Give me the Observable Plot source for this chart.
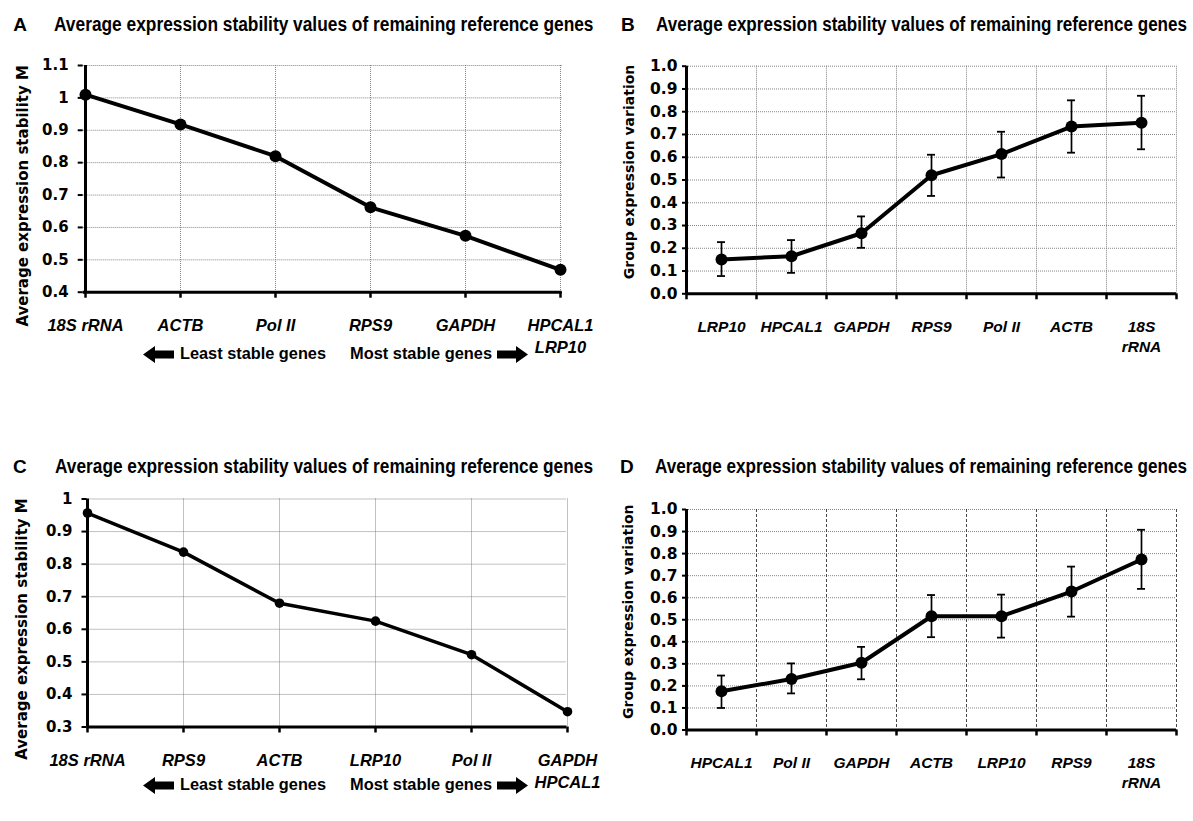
<!DOCTYPE html>
<html>
<head>
<meta charset="utf-8">
<script src="https://cdn.jsdelivr.net/npm/d3@7"></script>
<script src="https://cdn.jsdelivr.net/npm/@observablehq/plot@0.6"></script>
<style>
  html, body { margin: 0; padding: 0; background: #fff; }
  #root { position: relative; width: 1193px; height: 821px; overflow: hidden; background: #fff; color: #000; }
  .panel { position: absolute; }
  .letter { position: absolute; font-family: "Liberation Sans", Arial, sans-serif; font-weight: bold; font-size: 19px; line-height: 19px; white-space: nowrap; }
  .fit { position: absolute; display: inline-block; white-space: nowrap; transform-origin: 0 50%;
         font-family: "Liberation Sans Narrow", "Arial Narrow", "Liberation Sans", Arial, sans-serif; font-weight: bold; }
  .title { font-size: 20px; line-height: 20px; }
  .note { font-size: 16px; line-height: 16px; }
  .arrow { position: absolute; }
</style>
</head>
<body>
<div id="root"></div>
<script>
// ---------------- data ----------------
const panelTitle = "Average expression stability values of remaining reference genes";
const stabilityLabel = "Average expression stability M";
const variationLabel = "Group expression variation";
const leastText = "Least stable genes";
const mostText = "Most stable genes";

// Panel A
const genesA = ["18S rRNA", "ACTB", "Pol II", "RPS9", "GAPDH", "HPCAL1\nLRP10"];
const stabilityA = [1.01, 0.918, 0.82, 0.662, 0.574, 0.469];
const yTicksA = [0.4, 0.5, 0.6, 0.7, 0.8, 0.9, 1.0, 1.1];
const yTickLabelsA = ["0.4", "0.5", "0.6", "0.7", "0.8", "0.9", "1", "1.1"];

// Panel B
const genesB = ["LRP10", "HPCAL1", "GAPDH", "RPS9", "Pol II", "ACTB", "18S\nrRNA"];
const variationB = [0.151, 0.165, 0.266, 0.521, 0.614, 0.735, 0.752];
const lowB = [0.078, 0.092, 0.202, 0.430, 0.511, 0.620, 0.635];
const highB = [0.227, 0.236, 0.340, 0.611, 0.712, 0.850, 0.870];

// Panel C
const genesC = ["18S rRNA", "RPS9", "ACTB", "LRP10", "Pol II", "GAPDH\nHPCAL1"];
const stabilityC = [0.957, 0.837, 0.68, 0.625, 0.522, 0.347];
const yTicksC = [0.3, 0.4, 0.5, 0.6, 0.7, 0.8, 0.9, 1.0];
const yTickLabelsC = ["0.3", "0.4", "0.5", "0.6", "0.7", "0.8", "0.9", "1"];

// Panel D
const genesD = ["HPCAL1", "Pol II", "GAPDH", "ACTB", "LRP10", "RPS9", "18S\nrRNA"];
const variationD = [0.176, 0.231, 0.305, 0.516, 0.516, 0.628, 0.773];
const lowD = [0.100, 0.166, 0.230, 0.421, 0.419, 0.514, 0.640];
const highD = [0.247, 0.302, 0.377, 0.612, 0.614, 0.741, 0.908];

const yTicksBD = [0.0, 0.1, 0.2, 0.3, 0.4, 0.5, 0.6, 0.7, 0.8, 0.9, 1.0];
const yTickLabelsBD = ["0.0", "0.1", "0.2", "0.3", "0.4", "0.5", "0.6", "0.7", "0.8", "0.9", "1.0"];

// ---------------- helpers ----------------
const root = document.getElementById("root");
const GRID = {stroke: "#777", strokeWidth: 0.9, strokeDasharray: "1,1"};
const TICKFONT = "DejaVu Sans, Verdana, sans-serif";
const LABELFONT = "Liberation Sans, Arial, sans-serif";

function place(el, left, top) {
  const d = document.createElement("div");
  d.className = "panel";
  d.style.left = left + "px";
  d.style.top = top + "px";
  d.appendChild(el);
  root.appendChild(d);
}

function linePanel(o) {
  const data = o.genes.map((g, i) => ({gene: g, v: o.values[i]}));
  const innerW = o.width - o.ml - o.mr;
  const innerH = o.height - o.mt - o.mb;
  return Plot.plot({
    width: o.width, height: o.height,
    marginLeft: o.ml, marginRight: o.mr, marginTop: o.mt, marginBottom: o.mb,
    style: {background: "transparent", overflow: "visible", color: "black"},
    x: {type: "point", domain: o.genes, padding: 0, axis: null},
    y: {domain: [o.yTicks[0], o.yTicks[o.yTicks.length - 1]], axis: null},
    marks: [
      Plot.ruleY(o.yTicks.slice(1), GRID),
      Plot.ruleX(o.genes.slice(1), GRID),
      Plot.ruleX(o.genes, {insetTop: innerH, insetBottom: -6, stroke: "black", strokeWidth: 2.5}),
      Plot.tickY(o.yTicks, {insetLeft: -5, insetRight: innerW, stroke: "black", strokeWidth: 2}),
      Plot.ruleX([o.genes[0]], {stroke: "black", strokeWidth: 3}),
      Plot.ruleY([o.yTicks[0]], {stroke: "black", strokeWidth: 3}),
      Plot.line(data, {x: "gene", y: "v", stroke: "black", strokeWidth: o.lineW}),
      Plot.dot(data, {x: "gene", y: "v", r: o.r, fill: "black", stroke: "none"}),
      Plot.text(o.yTicks, {y: d => d, text: (d, i) => o.yTickLabels[i], frameAnchor: "left", textAnchor: "end",
        dx: o.tickDx, fontFamily: TICKFONT, fontWeight: "bold", fontSize: o.tickFont}),
      Plot.text(o.genes, {x: d => d, text: d => d, frameAnchor: "bottom", textAnchor: "middle", lineAnchor: "top", dy: 24,
        fontFamily: LABELFONT, fontStyle: "italic", fontWeight: "bold", fontSize: o.catSize, lineHeight: 1.3}),
      Plot.text([o.ylabel], {frameAnchor: "left", textAnchor: "middle", lineAnchor: "middle", rotate: -90, dx: o.ylDx, dy: o.ylDy,
        fontFamily: TICKFONT, fontWeight: "bold", fontSize: o.ylSize})
    ]
  });
}

function errPanel(o) {
  const n = o.genes.length;
  const data = o.genes.map((g, i) => ({gene: g, v: o.values[i], lo: o.low[i], hi: o.high[i]}));
  const innerW = o.width - o.ml - o.mr;
  const innerH = o.height - o.mt - o.mb;
  const bw = innerW / n;
  const capInset = (bw - 8) / 2;
  const last = o.genes[n - 1];
  return Plot.plot({
    width: o.width, height: o.height,
    marginLeft: o.ml, marginRight: o.mr, marginTop: o.mt, marginBottom: o.mb,
    style: {background: "transparent", overflow: "visible", color: "black"},
    x: {type: "band", domain: o.genes, padding: 0, axis: null},
    y: {domain: [o.yTicks[0], o.yTicks[o.yTicks.length - 1]], axis: null},
    marks: [
      Plot.ruleY(o.yTicks.slice(1), GRID),
      Plot.ruleX(o.genes.slice(1), {dx: -bw / 2, ...o.vgrid}),
      Plot.ruleX([last], {dx: bw / 2, ...o.vgrid}),
      Plot.ruleX(o.genes, {dx: -bw / 2, insetTop: innerH, insetBottom: -6, stroke: "black", strokeWidth: 2.5}),
      Plot.ruleX([last], {dx: bw / 2, insetTop: innerH, insetBottom: -6, stroke: "black", strokeWidth: 2.5}),
      Plot.tickY(o.yTicks, {insetLeft: -4, insetRight: innerW, stroke: "black", strokeWidth: 2}),
      Plot.ruleX([o.genes[0]], {dx: -bw / 2, stroke: "black", strokeWidth: 3}),
      Plot.ruleY([o.yTicks[0]], {stroke: "black", strokeWidth: 3}),
      Plot.ruleX(data, {x: "gene", y1: "lo", y2: "hi", stroke: "black", strokeWidth: 1.7}),
      Plot.tickY(data, {x: "gene", y: "lo", insetLeft: capInset, insetRight: capInset, stroke: "black", strokeWidth: 1.8}),
      Plot.tickY(data, {x: "gene", y: "hi", insetLeft: capInset, insetRight: capInset, stroke: "black", strokeWidth: 1.8}),
      Plot.line(data, {x: "gene", y: "v", stroke: "black", strokeWidth: o.lineW}),
      Plot.dot(data, {x: "gene", y: "v", r: o.r, fill: "black", stroke: "none"}),
      Plot.text(o.yTicks, {y: d => d, text: (d, i) => o.yTickLabels[i], frameAnchor: "left", textAnchor: "end",
        dx: o.tickDx, fontFamily: TICKFONT, fontWeight: "bold", fontSize: o.tickFont}),
      Plot.text(o.genes, {x: d => d, text: d => d, frameAnchor: "bottom", textAnchor: "middle", lineAnchor: "top", dy: 24,
        fontFamily: LABELFONT, fontStyle: "italic", fontWeight: "bold", fontSize: o.catSize, lineHeight: 1.3}),
      Plot.text([o.ylabel], {frameAnchor: "left", textAnchor: "middle", lineAnchor: "middle", rotate: -90, dx: o.ylDx, dy: o.ylDy,
        fontFamily: TICKFONT, fontWeight: "bold", fontSize: o.ylSize})
    ]
  });
}

// ---------------- panels ----------------
place(linePanel({
  genes: genesA, values: stabilityA, yTicks: yTicksA, yTickLabels: yTickLabelsA,
  width: 597, height: 410, ml: 82.7, mr: 35.3, mt: 65, mb: 118.3,
  lineW: 4, r: 6, tickDx: -14.5, tickFont: 15, catSize: 16.5,
  ylabel: stabilityLabel, ylDx: -60, ylDy: 17, ylSize: 15
}), 0, 0);

place(errPanel({
  genes: genesB, values: variationB, low: lowB, high: highB, yTicks: yTicksBD, yTickLabels: yTickLabelsBD,
  width: 596, height: 410, ml: 89, mr: 17, mt: 65.7, mb: 116.7,
  vgrid: GRID, lineW: 4, r: 6, tickDx: -9, tickFont: 15.5, catSize: 15.5,
  ylabel: variationLabel, ylDx: -57, ylDy: -8, ylSize: 14
}), 597, 0);

place(linePanel({
  genes: genesC, values: stabilityC, yTicks: yTicksC, yTickLabels: yTickLabelsC,
  width: 597, height: 411, ml: 86.5, mr: 30.5, mt: 88.5, mb: 94.5,
  lineW: 3.5, r: 4.8, tickDx: -14.5, tickFont: 15, catSize: 16.5,
  ylabel: stabilityLabel, ylDx: -64.5, ylDy: 16, ylSize: 15
}), 0, 410);

place(errPanel({
  genes: genesD, values: variationD, low: lowD, high: highD, yTicks: yTicksBD, yTickLabels: yTickLabelsBD,
  width: 596, height: 411, ml: 89, mr: 17, mt: 99, mb: 91.5,
  vgrid: {stroke: "#333", strokeWidth: 0.9, strokeDasharray: "3,2"},
  lineW: 4, r: 6, tickDx: -9, tickFont: 15.5, catSize: 15.5,
  ylabel: variationLabel, ylDx: -58, ylDy: -8, ylSize: 14
}), 597, 410);

// ---------------- titles & notes ----------------
function letter(txt, x, cy) {
  const s = document.createElement("div");
  s.className = "letter";
  s.textContent = txt;
  s.style.left = x + "px";
  s.style.top = (cy - 0.49 * 19) + "px";
  root.appendChild(s);
}
function fitText(txt, cls, x, x2, cy, fs) {
  const s = document.createElement("span");
  s.className = "fit " + cls;
  s.textContent = txt;
  s.style.left = x + "px";
  s.style.top = (cy - 0.49 * fs) + "px";
  root.appendChild(s);
  const w = s.getBoundingClientRect().width;
  s.style.transform = `scaleX(${(x2 - x) / w})`;
}
function arrow(x, cy, dir) {
  const ns = "http://www.w3.org/2000/svg";
  const svg = document.createElementNS(ns, "svg");
  svg.setAttribute("width", 31); svg.setAttribute("height", 17);
  svg.setAttribute("class", "arrow");
  svg.style.left = x + "px"; svg.style.top = (cy - 8.5) + "px";
  const p = document.createElementNS(ns, "polygon");
  const pts = dir < 0
    ? "0,8.5 12,0 12,4.5 31,4.5 31,12.5 12,12.5 12,17"
    : "31,8.5 19,0 19,4.5 0,4.5 0,12.5 19,12.5 19,17";
  p.setAttribute("points", pts);
  p.setAttribute("fill", "black");
  svg.appendChild(p);
  root.appendChild(svg);
}

letter("A", 13.3, 24);
fitText(panelTitle, "title", 53.5, 593, 24, 20);
letter("B", 621, 24);
fitText(panelTitle, "title", 656, 1187, 24, 20);
letter("C", 13, 466);
fitText(panelTitle, "title", 55, 593, 466, 20);
letter("D", 620, 466);
fitText(panelTitle, "title", 655, 1187, 466, 20);

// arrows rows under A and C
for (const cy of [354, 785]) {
  arrow(143, cy, -1);
  fitText(leastText, "note", 180, 326, cy, 16);
  fitText(mostText, "note", 350, 492, cy, 16);
  arrow(497, cy, 1);
}
</script>
</body>
</html>
